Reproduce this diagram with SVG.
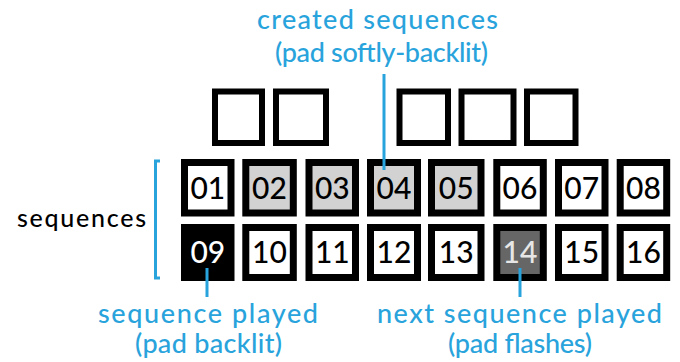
<svg xmlns="http://www.w3.org/2000/svg" width="680" height="362" viewBox="0 0 680 362">
<style>
.pad{stroke:#000;stroke-width:7;fill:#fff}
.lit{fill:#d2d2d2}
.play{fill:#000}
.next{fill:#666}
.sq{stroke:#000;stroke-width:6;fill:#fff}
.num{font-family:Lato,"Liberation Sans",sans-serif;font-size:30px;font-weight:500;fill:#000;text-anchor:middle}
.wnum{fill:#fff}
.gnum{fill:#e6e6e6}
.lbl{font-family:Lato,"Liberation Sans",sans-serif;font-size:27px;font-weight:500;fill:#29a3dc;text-anchor:middle}
.blk{font-family:Lato,"Liberation Sans",sans-serif;font-size:25px;font-weight:500;fill:#000}
.conn{stroke:#29a3dc;stroke-width:3;fill:none}
</style>
<rect width="680" height="362" fill="#fff"/>
<g id="top-squares">
<rect class="sq" x="215" y="91.5" width="47" height="51.5"/>
<rect class="sq" x="276" y="91.5" width="50" height="51.5"/>
<rect class="sq" x="399.5" y="91.5" width="48.5" height="51.5"/>
<rect class="sq" x="461.5" y="91.5" width="52" height="51.5"/>
<rect class="sq" x="527" y="91.5" width="48.5" height="51.5"/>
</g>
<g id="pad-01"><rect class="pad" x="184.5" y="162.5" width="46.5" height="50.5"/><text class="num" x="207.8" y="199">01</text></g>
<g id="pad-02"><rect class="pad lit" x="245.8" y="162.5" width="47.5" height="50.5"/><text class="num" x="269.5" y="199">02</text></g>
<g id="pad-03"><rect class="pad lit" x="309" y="162.5" width="46.5" height="50.5"/><text class="num" x="332.3" y="199">03</text></g>
<g id="pad-04"><rect class="pad lit" x="370.5" y="162.5" width="47" height="50.5"/><text class="num" x="394" y="199">04</text></g>
<g id="pad-05"><rect class="pad lit" x="431.5" y="162.5" width="49.5" height="50.5"/><text class="num" x="456.2" y="199">05</text></g>
<g id="pad-06"><rect class="pad" x="496.8" y="162.5" width="46.5" height="50.5"/><text class="num" x="520" y="199">06</text></g>
<g id="pad-07"><rect class="pad" x="558.5" y="162.5" width="46.5" height="50.5"/><text class="num" x="581.7" y="199">07</text></g>
<g id="pad-08"><rect class="pad" x="620.2" y="162.5" width="46.5" height="50.5"/><text class="num" x="643.4" y="199">08</text></g>
<g id="pad-09"><rect class="pad play" x="184.5" y="227.5" width="46.5" height="50"/><text class="num wnum" x="207.8" y="263">09</text></g>
<g id="pad-10"><rect class="pad" x="245.8" y="227.5" width="47.5" height="50"/><text class="num" x="269.5" y="263">10</text></g>
<g id="pad-11"><rect class="pad" x="309" y="227.5" width="46.5" height="50"/><text class="num" x="332.3" y="263">11</text></g>
<g id="pad-12"><rect class="pad" x="370.5" y="227.5" width="47" height="50"/><text class="num" x="394" y="263">12</text></g>
<g id="pad-13"><rect class="pad" x="431.5" y="227.5" width="49.5" height="50"/><text class="num" x="456.2" y="263">13</text></g>
<g id="pad-14"><rect class="pad next" x="496.8" y="227.5" width="46.5" height="50"/><text class="num gnum" x="520" y="263">14</text></g>
<g id="pad-15"><rect class="pad" x="558.5" y="227.5" width="46.5" height="50"/><text class="num" x="581.7" y="263">15</text></g>
<g id="pad-16"><rect class="pad" x="620.2" y="227.5" width="46.5" height="50"/><text class="num" x="643.4" y="263">16</text></g>
<g id="label-sequences"><text class="blk" x="17" y="227" textLength="129" lengthAdjust="spacing">sequences</text></g>
<g id="label-created"><text class="lbl" x="377.5" y="29" textLength="241" lengthAdjust="spacing">created sequences</text><text class="lbl" x="381.5" y="62" textLength="213" lengthAdjust="spacing">(pad softly-backlit)</text></g>
<g id="label-played"><text class="lbl" x="208" y="323" textLength="220" lengthAdjust="spacing">sequence played</text><text class="lbl" x="208.5" y="353" textLength="147" lengthAdjust="spacing">(pad backlit)</text></g>
<g id="label-next"><text class="lbl" x="519.5" y="323" textLength="285" lengthAdjust="spacing">next sequence played</text><text class="lbl" x="520" y="353" textLength="144" lengthAdjust="spacing">(pad flashes)</text></g>
<g id="connectors">
<path class="conn" d="M160,161 H155.5 V278 H160"/>
<path class="conn" d="M384,74 V170"/>
<path class="conn" d="M207,268 V297"/>
<path class="conn" d="M520,268 V297"/>
</g>
</svg>
